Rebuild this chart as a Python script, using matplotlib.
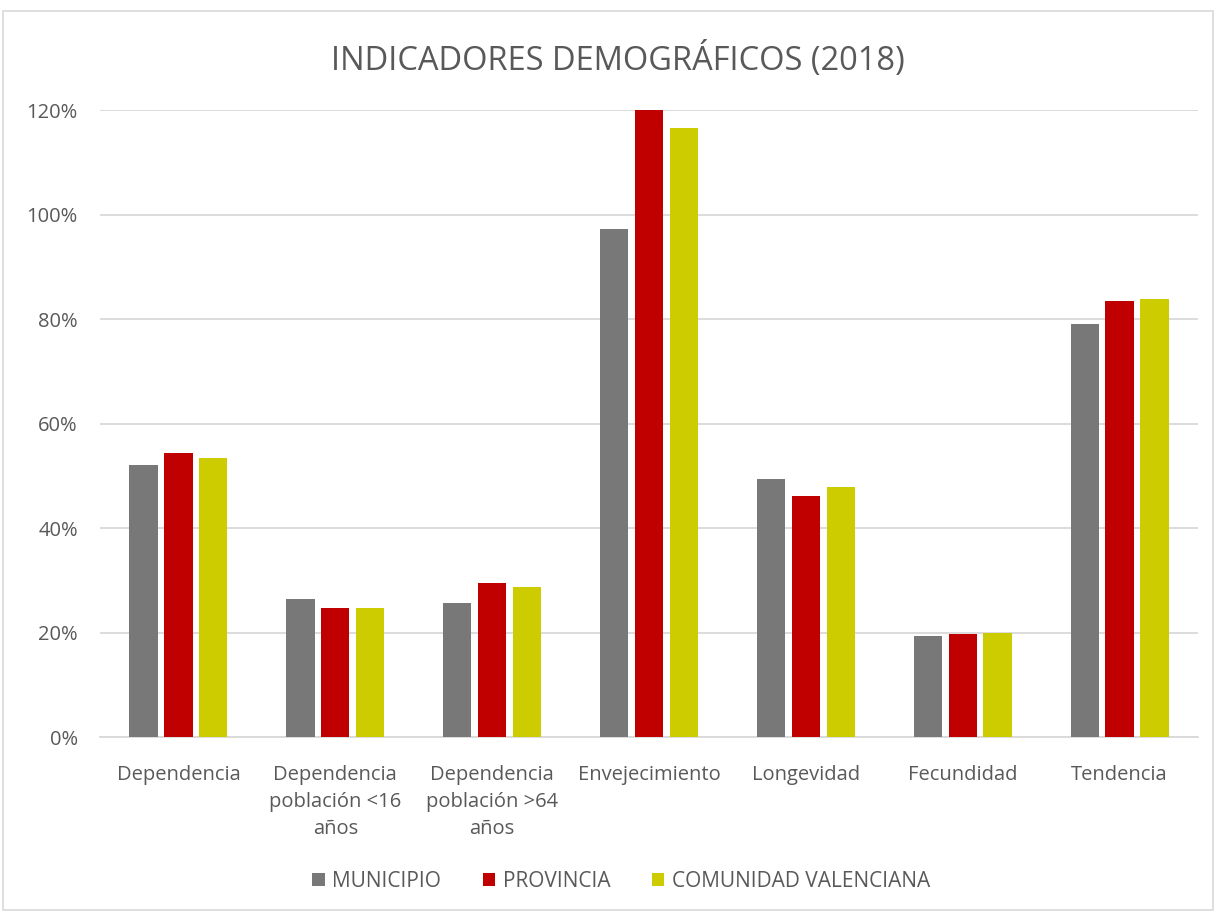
import numpy as np
import matplotlib.pyplot as plt
from matplotlib.patches import Rectangle

plt.rcParams['font.family'] = ['Open Sans', 'DejaVu Sans']

categorias = ['Dependencia', 'Dependencia\npoblación <16\naños', 'Dependencia\npoblación >64\naños',
              'Envejecimiento', 'Longevidad', 'Fecundidad', 'Tendencia']
municipio = [52.0, 26.4, 25.7, 97.2, 49.4, 19.4, 79.0]
provincia = [54.3, 24.7, 29.5, 120.0, 46.2, 19.8, 83.4]
comunidad = [53.4, 24.7, 28.7, 116.5, 47.9, 20.0, 83.8]
series = ['MUNICIPIO', 'PROVINCIA', 'COMUNIDAD VALENCIANA']
colores = ['#787878', '#C00000', '#CCCC00']

fig = plt.figure(figsize=(12.18, 9.13), dpi=100)
ax = fig.add_axes([100/1218, 1-737.3/913, 1098/1218, (737.3-110)/913])

# marco del gráfico
fig.patches.append(Rectangle((3/1218, 3/913), 1210/1218, 899/913, transform=fig.transFigure,
                             fill=False, edgecolor='#D9D9D9', linewidth=1.2))

x = np.arange(len(categorias))
ancho = 0.18
paso = 0.222
for i, (vals, nombre, col) in enumerate(zip([municipio, provincia, comunidad], series, colores)):
    ax.bar(x + (i - 1) * paso, vals, ancho, color=col, label=nombre, zorder=3)

ax.set_xlim(-0.5, len(categorias) - 0.5)
ax.set_ylim(0, 120)
ax.set_yticks(np.arange(0, 121, 20))
ax.set_yticklabels([f'{v}%' for v in range(0, 121, 20)])
ax.set_xticks(x)
ax.set_xticklabels(categorias, linespacing=1.45)
ax.tick_params(axis='both', length=0, labelsize=14.5, labelcolor='#595959')
ax.tick_params(axis='x', pad=20)
ax.tick_params(axis='y', pad=16)
ax.grid(axis='y', color='#D9D9D9', linewidth=1.3, zorder=0)
for s in ['top', 'right', 'left']:
    ax.spines[s].set_visible(False)
ax.spines['bottom'].set_color('#D9D9D9')
ax.spines['bottom'].set_linewidth(1.3)

fig.text(0.507, 1-60/913, 'INDICADORES DEMOGRÁFICOS (2018)', ha='center', va='center',
         fontsize=23.5, color='#595959')

fig.legend(loc='center', bbox_to_anchor=(0.51, 1-881/913), ncol=3, frameon=False,
           fontsize=15, labelcolor='#595959', handlelength=0.6, handleheight=0.6,
           handletextpad=0.35, columnspacing=2.0)

fig.savefig('out.png', dpi=100)
